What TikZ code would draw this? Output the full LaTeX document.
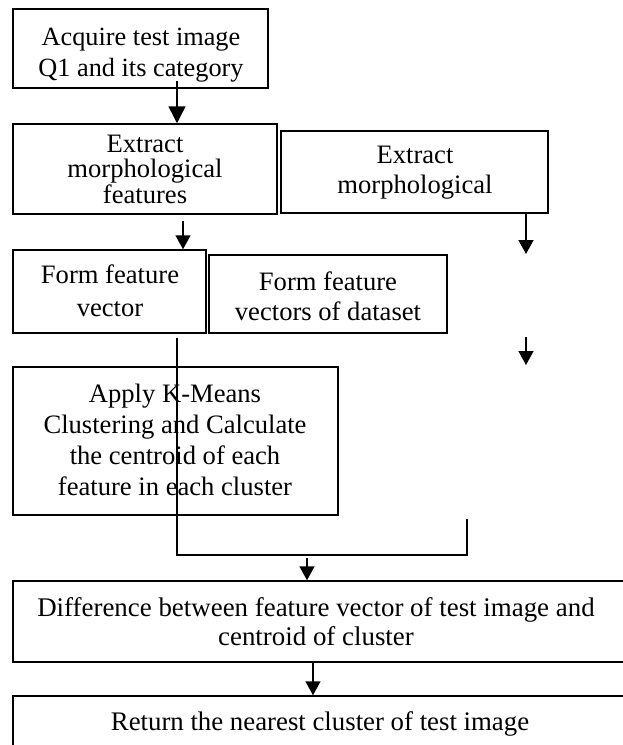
\documentclass[tikz,border=0pt]{standalone}
\usepackage{fontspec}
\setmainfont{Liberation Serif}
\usetikzlibrary{arrows.meta}
\newcommand{\txtlines}[3][26.6]{\fontsize{#1}{#2}\selectfont\begin{tabular}[t]{@{}c@{}}#3\end{tabular}}
\begin{document}
\begin{tikzpicture}[x=1pt,y=-1pt,
  box/.style={draw, line width=1.5pt, inner sep=0pt, fill=none},
  txt/.style={inner sep=0pt, anchor=base},
  arr/.style={line width=1.5pt, -{Triangle[width=15pt,length=14pt]}},
  bigarr/.style={line width=1.5pt, -{Triangle[width=17pt,length=17pt]}},
  ln/.style={line width=1.3pt}]
\useasboundingbox (0,0) rectangle (623,745);
\clip (0,0) rectangle (623,745);
% boxes
\node[box, minimum width=255pt, minimum height=79pt]  (b1) at (140.5,48.5) {};
\node[box, minimum width=264pt, minimum height=90pt]  (b2) at (145,169) {};
\node[box, minimum width=267pt, minimum height=82pt]  (b3) at (414.5,172) {};
\node[box, minimum width=193pt, minimum height=83pt]  (b4) at (109.5,291.5) {};
\node[box, minimum width=238pt, minimum height=78pt]  (b5) at (328,294) {};
\node[box, minimum width=325pt, minimum height=148pt] (b6) at (175.5,441) {};
\node[box, minimum width=612pt, minimum height=81pt]  (b7) at (319,621.5) {};
\node[box, minimum width=612pt, minimum height=74pt]  (b8) at (319,733) {};
% texts
\node[txt] (t1) at (141,45)  {\txtlines[26.3]{31}{Acquire test image\\Q1 and its category}};
\node[txt] (t2) at (145,152) {\txtlines{24.5}{Extract\\morphological\\features}};
\node[txt] (t3) at (415,163) {\txtlines{30}{Extract\\morphological}};
\node[txt] (t4) at (110,283) {\txtlines{33}{Form feature\\vector}};
\node[txt] (t5) at (328,290) {\txtlines{30}{Form feature\\vectors of dataset}};
\node[txt] (t6) at (175,402) {\txtlines{31}{Apply K-Means\\Clustering and Calculate\\the centroid of each\\feature in each cluster}};
\node[txt] (t7) at (316,616) {\txtlines[26.9]{29}{Difference between feature vector of test image and\\centroid of cluster}};
\node[txt] (t8) at (320,730) {\txtlines[26.8]{30}{Return the nearest cluster of test image}};
% free ends
\coordinate (c1) at (526,254);
\coordinate (c2) at (526,337);
\coordinate (c3) at (526,365);
\coordinate (c4) at (467,519);
\coordinate (c5) at (467,555);
\coordinate (c6) at (307,558);
% connectors
\draw[bigarr] ([shift={(36.5,-8)}]b1.south) -- ([xshift=36.5pt]b2.north -| b1.south);
\draw[arr] ([shift={(38,6)}]b2.south) -- ([xshift=73.5pt]b4.north);
\draw[arr] ([xshift=111.5pt]b3.south) -- (c1);
\draw[arr] (c2) -- (c3);
\draw[ln] ([shift={(67.5,4)}]b4.south) |- (c5) -- (c4);
\draw[arr] (c6) -- ([xshift=-12pt]b7.north);
\draw[arr] ([xshift=-6pt]b7.south) -- ([xshift=-6pt]b8.north);
\end{tikzpicture}
\end{document}
